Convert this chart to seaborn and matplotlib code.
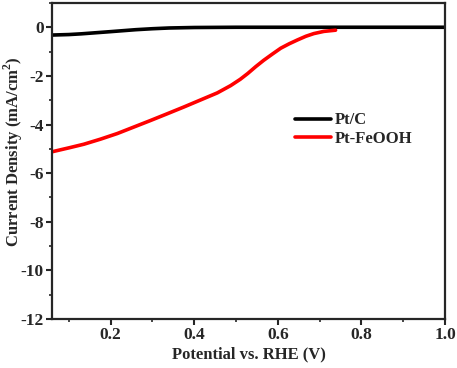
import matplotlib
matplotlib.use("Agg")
import matplotlib.pyplot as plt
import seaborn as sns
import pandas as pd
from matplotlib.ticker import MultipleLocator

# Data
ptc_x = [0.06, 0.10, 0.13, 0.20, 0.26, 0.30, 0.34, 0.40, 0.50, 0.60, 0.70, 0.80, 0.90, 1.00]
ptc_y = [-0.32, -0.30, -0.27, -0.18, -0.10, -0.06, -0.03, -0.01, 0.0, 0.0, 0.0, 0.0, 0.0, 0.0]
fe_x = [0.06, 0.10, 0.136, 0.176, 0.216, 0.256, 0.296, 0.335, 0.375, 0.415, 0.455, 0.487,
        0.51, 0.528, 0.547, 0.566, 0.587, 0.607, 0.627, 0.647, 0.667, 0.686, 0.71, 0.738]
fe_y = [-5.12, -4.96, -4.81, -4.60, -4.37, -4.10, -3.83, -3.56, -3.28, -2.99, -2.70, -2.40,
        -2.14, -1.90, -1.62, -1.36, -1.10, -0.86, -0.68, -0.52, -0.37, -0.26, -0.17, -0.12]
labels = ["Pt/C", "Pt-FeOOH"]
colors = ["#000000", "#ff0000"]

df = pd.concat([
    pd.DataFrame({"x": ptc_x, "y": ptc_y, "s": labels[0]}),
    pd.DataFrame({"x": fe_x, "y": fe_y, "s": labels[1]}),
])

sns.set_style("ticks")
plt.rcParams["font.family"] = ["Liberation Serif", "DejaVu Serif"]
plt.rcParams["font.weight"] = "bold"
plt.rcParams["mathtext.fontset"] = "custom"
plt.rcParams["mathtext.bf"] = "Liberation Serif:bold"
plt.rcParams["mathtext.rm"] = "Liberation Serif:bold"

fig = plt.figure(figsize=(4.57, 3.68), dpi=100)
ax = fig.add_axes([0.114, 0.133, 0.86, 0.859])
sns.lineplot(data=df, x="x", y="y", hue="s", palette=colors, sort=False,
             linewidth=2.6, ax=ax, estimator=None)
for ln in ax.get_lines():
    ln.set_solid_joinstyle("round")
    ln.set_solid_capstyle("round")

ax.set_xlim(0.06, 1.0)
ax.set_ylim(-12, 1)
ax.xaxis.set_minor_locator(MultipleLocator(0.1))
ax.yaxis.set_minor_locator(MultipleLocator(1))
ax.set_xticks([0.2, 0.4, 0.6, 0.8, 1.0])
ax.set_xticklabels(["0.2", "0.4", "0.6", "0.8", "1.0"])
ax.set_yticks([0, -2, -4, -6, -8, -10, -12])
ax.set_yticklabels(["0", "-2", "-4", "-6", "-8", "-10", "-12"])
ax.tick_params(which="major", length=4, width=1.5, labelsize=12.5, direction="out", pad=2)
ax.tick_params(which="minor", length=2.5, width=1.2, direction="out")
for t in ax.get_xticklabels() + ax.get_yticklabels():
    t.set_fontweight("bold")
for sp in ax.spines.values():
    sp.set_linewidth(1.6)
    sp.set_visible(True)

ax.set_xlabel("Potential vs. RHE (V)", fontsize=12, fontweight="bold", labelpad=2)
ax.set_ylabel("Current Density (mA/cm$^{2}$)", fontsize=12, fontweight="bold")
ax.yaxis.set_label_coords(-0.07, 0.53)

leg = ax.legend(loc="upper left", bbox_to_anchor=(0.60, 0.675), frameon=False,
                fontsize=12, handlelength=2.2, handletextpad=0.2,
                borderaxespad=0, labelspacing=0.15, title=None)
for t in leg.get_texts():
    t.set_fontweight("bold")
for l in leg.get_lines():
    l.set_linewidth(2.6)

fig.savefig("out.png", dpi=100)
